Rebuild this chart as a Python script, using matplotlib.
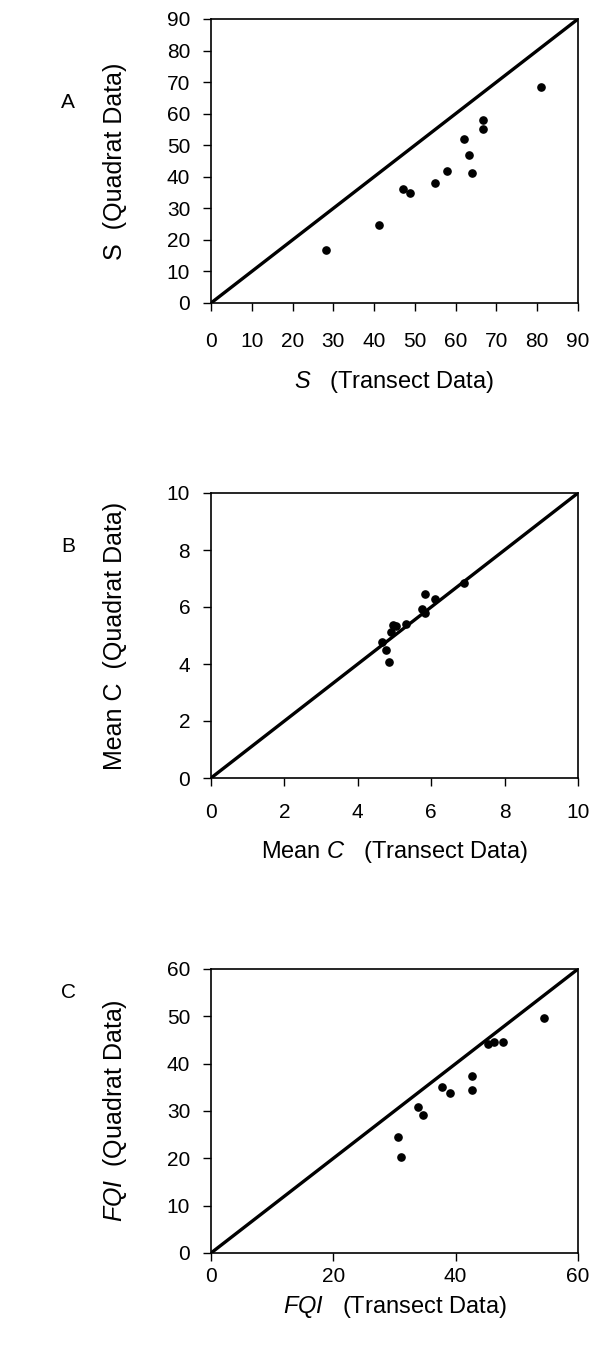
import matplotlib
matplotlib.use('Agg')
import matplotlib.pyplot as plt

plt.rcParams['font.family'] = ['Liberation Sans', 'DejaVu Sans']
plt.rcParams['mathtext.fontset'] = 'custom'
plt.rcParams['mathtext.it'] = 'Liberation Sans:italic'
plt.rcParams['mathtext.rm'] = 'Liberation Sans'

# A: species richness
s_transect = [28.2, 41.2, 47.1, 48.9, 54.9, 57.9, 62.0, 63.3, 63.9, 66.8, 66.8, 81.0]
s_quadrat = [16.7, 24.8, 36.2, 34.9, 38.1, 41.9, 51.9, 46.8, 41.1, 58.0, 55.0, 68.6]

# B: mean C
c_transect = [4.65, 4.76, 4.85, 4.90, 4.96, 5.05, 5.31, 5.76, 5.83, 5.83, 6.11, 6.90]
c_quadrat = [4.77, 4.50, 4.07, 5.11, 5.38, 5.32, 5.39, 5.94, 6.46, 5.80, 6.29, 6.84]

# C: FQI
fqi_transect = [30.6, 31.1, 33.9, 34.7, 37.8, 39.0, 42.6, 42.6, 45.3, 46.2, 47.7, 54.5]
fqi_quadrat = [24.6, 20.3, 30.8, 29.1, 35.0, 33.8, 37.5, 34.5, 44.2, 44.6, 44.6, 49.6]

s_ticks = list(range(0, 91, 10))
c_ticks = list(range(0, 11, 2))
fqi_xticks = [0, 20, 40, 60]
fqi_yticks = list(range(0, 61, 10))

W, H = 595, 1348

# label, x, y, max, xticks, yticks, xlabel, ylabel, axes top/bottom (px), x tick pad, panel-letter y (px), xlabel y (px)
panels = [
    ('A', s_transect, s_quadrat, 90, s_ticks, s_ticks,
     r'$\it{S}$   (Transect Data)', 'S  (Quadrat Data)', 19, 303, 15, 103, 382),
    ('B', c_transect, c_quadrat, 10, c_ticks, c_ticks,
     r'Mean $\it{C}$   (Transect Data)', 'Mean C  (Quadrat Data)', 493, 778, 12, 547, 852),
    ('C', fqi_transect, fqi_quadrat, 60, fqi_xticks, fqi_yticks,
     r'$\it{FQI}$   (Transect Data)', r'$\it{FQI}$  (Quadrat Data)', 969, 1253, 4, 993, 1307),
]

fig = plt.figure(figsize=(W / 100, H / 100), dpi=100)
left, right = 211, 578

for label, x, y, top, xticks, yticks, xlab, ylab, ytop, ybot, xpad, ly, xly in panels:
    h = ybot - ytop
    ax = fig.add_axes([left / W, 1 - ybot / H, (right - left) / W, h / H])
    ax.plot([0, top], [0, top], color='black', lw=2.4, zorder=2)
    ax.plot(x, y, 'o', color='black', markersize=5.2, zorder=3)
    ax.set_xlim(0, top)
    ax.set_ylim(0, top)
    ax.set_xticks(xticks)
    ax.set_yticks(yticks)
    ax.tick_params(direction='out', length=6, width=1, labelsize=15)
    ax.tick_params(axis='x', pad=xpad)
    ax.tick_params(axis='y', pad=9)
    for sp in ax.spines.values():
        sp.set_linewidth(1.2)
    ax.set_xlabel(xlab, fontsize=17)
    ax.xaxis.label.set_va('center')
    ax.xaxis.set_label_coords(0.5, (ybot - xly) / h)
    ax.set_ylabel(ylab, fontsize=18)
    ax.yaxis.label.set_va('center')
    ax.yaxis.set_label_coords((115 - left) / (right - left), 0.5)
    fig.text(68 / W, 1 - ly / H, label, fontsize=15, ha='center', va='center')

fig.savefig('out.png', dpi=100)
